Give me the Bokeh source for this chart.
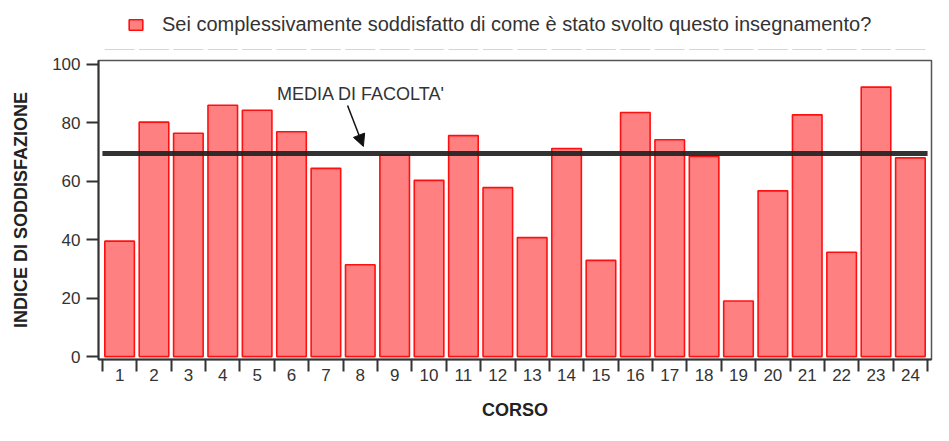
from bokeh.plotting import figure
from bokeh.layouts import column
from bokeh.models import (Range1d, FixedTicker, Legend, LegendItem, Label,
                          Arrow, NormalHead, ColumnDataSource)
from bokeh.embed import file_html
from bokeh.resources import INLINE

# ---- data ----
courses = list(range(1, 25))
course_labels = [str(c) for c in courses]
scores = [39.5, 80.2, 76.4, 86.0, 84.3, 76.9, 64.4, 31.4, 69.0, 60.3, 75.6, 57.8,
          40.7, 71.2, 32.9, 83.5, 74.2, 68.5, 19.0, 56.7, 82.7, 35.7, 92.2, 68.0]
media_facolta = 69.5
y_ticks = [0, 20, 40, 60, 80, 100]
legend_text = "Sei complessivamente soddisfatto di come è stato svolto questo insegnamento?"
annotation_text = "MEDIA DI FACOLTA'"
x_title = "CORSO"
y_title = "INDICE DI SODDISFAZIONE"

FONT = "Liberation Sans"
BAR_FILL = "#FF8080"
BAR_LINE = "#FF1010"
n = len(courses)

source = ColumnDataSource(dict(x=courses, top=scores))

# ---- legend strip (top): same bars, with the view placed just above the data ----
leg_fig = figure(width=933, height=50, output_backend="svg", toolbar_location=None,
                 x_range=Range1d(0.386, n + 0.614), y_range=Range1d(110, 111),
                 x_axis_type=None, y_axis_type=None, min_border=0)
leg_fig.outline_line_color = None
leg_fig.xgrid.visible = False
leg_fig.ygrid.visible = False
leg_bars = leg_fig.vbar(x="x", top="top", bottom=0, width=0.86, source=source,
                        fill_color=BAR_FILL, line_color=BAR_LINE, line_width=1.6)
legend = Legend(items=[LegendItem(label=legend_text, renderers=[leg_bars])],
                orientation="horizontal", location=(29, 14),
                label_text_font=FONT, label_text_font_size="20px",
                label_text_color="#333333", glyph_width=17, glyph_height=13,
                label_standoff=18, border_line_color=None,
                background_fill_alpha=0, padding=4, margin=0)
leg_fig.add_layout(legend)

# ---- main chart ----
p = figure(width=933, height=375, output_backend="svg", toolbar_location=None,
           x_range=Range1d(0.386, n + 0.614), y_range=Range1d(-1, 101.3),
           min_border_left=98, min_border_right=2, min_border_top=10,
           min_border_bottom=66)

bars = p.vbar(x="x", top="top", bottom=0, width=0.86, source=source,
              fill_color=BAR_FILL, line_color=BAR_LINE, line_width=1.6)

# faculty mean line
p.segment(x0=[0.5], x1=[n + 0.5], y0=[media_facolta], y1=[media_facolta],
          line_color="#222222", line_width=5, line_alpha=0.92)

# annotation
p.add_layout(Label(x=5.58, y=media_facolta + 20.3, text=annotation_text,
                   text_font=FONT, text_font_size="18px", text_color="#333333",
                   text_baseline="middle", text_align="left"))
p.add_layout(Arrow(end=NormalHead(size=12, fill_color="#111111", line_color="#111111"),
                   x_start=7.63, y_start=media_facolta + 16.4,
                   x_end=8.09, y_end=media_facolta + 2.4,
                   line_color="#111111", line_width=1.5))

# axes styling
p.xgrid.visible = False
p.ygrid.visible = False
p.outline_line_color = "#555555"
p.outline_line_width = 1.5

xa = p.xaxis[0]
xa.ticker = FixedTicker(ticks=courses, minor_ticks=[c + 0.5 for c in range(n + 1)])
xa.major_label_overrides = {c: l for c, l in zip(courses, course_labels)}
xa.major_tick_line_color = None
xa.major_tick_out = 0
xa.major_tick_in = 0
xa.minor_tick_line_color = "#333333"
xa.minor_tick_line_width = 2
xa.minor_tick_out = 12
xa.minor_tick_in = 0
xa.axis_line_color = "#333333"
xa.axis_line_width = 2
xa.major_label_text_font = FONT
xa.major_label_text_font_size = "17px"
xa.major_label_text_color = "#333333"
xa.major_label_standoff = -3
xa.axis_label = x_title
xa.axis_label_text_font = FONT
xa.axis_label_text_font_size = "18px"
xa.axis_label_text_font_style = "bold"
xa.axis_label_text_color = "#222222"
xa.axis_label_standoff = 16

ya = p.yaxis[0]
ya.ticker = FixedTicker(ticks=y_ticks)
ya.major_tick_line_color = "#333333"
ya.major_tick_line_width = 2
ya.major_tick_out = 12
ya.major_tick_in = 0
ya.minor_tick_line_color = None
ya.axis_line_color = "#333333"
ya.axis_line_width = 2
ya.major_label_text_font = FONT
ya.major_label_text_font_size = "17px"
ya.major_label_text_color = "#333333"
ya.major_label_standoff = 6
ya.axis_label = y_title
ya.axis_label_text_font = FONT
ya.axis_label_text_font_size = "18px"
ya.axis_label_text_font_style = "bold"
ya.axis_label_text_color = "#222222"
ya.axis_label_standoff = 18

layout = column(leg_fig, p, spacing=0)
open("out.html", "w").write(file_html(layout, INLINE))
